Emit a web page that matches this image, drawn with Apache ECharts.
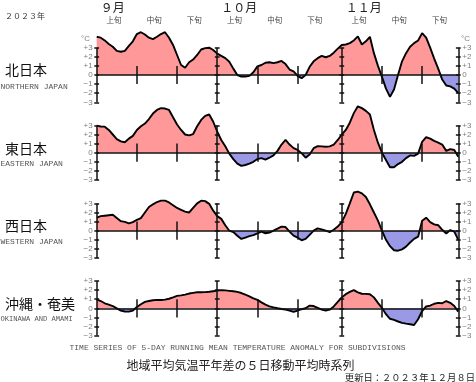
<!DOCTYPE html>
<html><head><meta charset="utf-8">
<script src="https://cdn.jsdelivr.net/npm/echarts@6/dist/echarts.min.js"></script>
<style>html,body{margin:0;padding:0;background:#fff}#c{width:476px;height:382px}</style>
</head><body><div id="c"></div>
<script>
// Day index 0 = Sep 1, 2023 ... 90 = Nov 30, 2023
const northern = [
 4.2, 4.1, 3.8, 3.4, 3.1, 2.65, 2.55, 2.65, 3.2, 3.7,
 4.5, 4.7, 4.45, 4.1, 3.95, 4.2, 4.5, 4.7, 4.1, 3.3,
 2.2, 1.1, 0.8, 1.4, 1.7, 2.2, 2.8, 2.95, 3.0, 2.75,
 2.35, 2.1, 1.85, 1.45, 0.7, 0.0, -0.18, -0.18, -0.1, 0.3,
 0.95, 1.1, 1.35, 1.4, 1.3, 1.4, 1.55, 1.2, 0.6, 0.4,
 -0.1, -0.35, 0.0, 0.9, 1.5, 1.85, 2.1, 1.95, 2.1, 2.45,
 2.9, 3.3, 3.35, 3.5, 3.8, 4.25, 3.35, 3.7, 4.2, 2.4,
 1.0, -0.2, -1.5, -2.4, -1.6, 0.0, 1.5, 2.4, 3.1, 3.5,
 3.8, 4.6, 4.1, 3.0, 1.8, 0.7, -0.5, -1.15, -1.25, -1.5,
 -2.0];
const eastern = [
 2.97, 2.88, 2.86, 2.5, 2.0, 1.5, 1.25, 1.15, 1.55, 1.85,
 2.5, 2.9, 3.2, 3.7, 4.3, 4.7, 4.9, 4.85, 4.7, 3.9,
 3.1, 2.5, 2.0, 1.9, 2.05, 2.9, 3.6, 4.05, 4.2, 3.4,
 2.3, 1.4, 0.7, -0.1, -0.7, -1.2, -1.45, -1.35, -1.2, -1.0,
 -0.7, -0.6, -0.75, -0.55, -0.3, 0.2, 0.9, 1.4, 0.9, 0.5,
 0.3, -0.05, -0.55, -0.2, 0.5, 0.72, 0.7, 0.66, 0.7, 0.9,
 1.4, 2.0, 2.5, 3.3, 4.35, 5.1, 4.9, 4.6, 4.2, 2.5,
 1.1, 0.0, -0.8, -1.6, -1.6, -1.25, -1.0, -0.6, -0.3, -0.35,
 -0.1, 1.2, 1.7, 1.55, 1.3, 1.1, 0.9, 0.2, 0.4, 0.3,
 -0.44];
const western = [
 1.43, 1.6, 1.65, 1.7, 1.75, 1.4, 1.05, 0.97, 0.8, 0.95,
 1.2, 1.38, 2.0, 2.6, 2.9, 3.15, 3.3, 3.3, 3.1, 2.8,
 2.5, 2.3, 2.1, 2.0, 2.5, 3.0, 3.3, 3.25, 2.95, 2.2,
 1.6, 1.3, 0.6, 0.0, -0.15, -0.55, -0.9, -0.75, -0.6, -0.48,
 -0.3, -0.1, -0.28, -0.2, 0.0, 0.22, 0.45, 0.4, -0.1, -0.55,
 -0.75, -1.05, -0.9, -0.45, 0.0, 0.25, 0.15, 0.0, -0.15, 0.1,
 0.45, 0.95, 1.85, 3.0, 4.2, 4.3, 4.1, 3.7, 2.9, 2.0,
 1.1, 0.0, -1.0, -1.7, -2.15, -2.2, -2.05, -1.75, -1.3, -0.9,
 -0.66, 1.1, 1.43, 0.95, 0.7, 0.6, 0.1, -0.3, 0.07, -0.1,
 -1.0];
const okinawa = [
 0.99, 0.8, 0.55, 0.4, 0.25, 0.0, -0.25, -0.35, -0.37, -0.25,
 0.15, 0.45, 0.7, 0.8, 0.88, 0.92, 0.92, 0.95, 1.05, 1.2,
 1.36, 1.42, 1.5, 1.62, 1.7, 1.76, 1.76, 1.78, 1.82, 1.88,
 1.94, 2.0, 1.97, 1.92, 1.87, 1.8, 1.68, 1.5, 1.32, 1.1,
 0.92, 0.65, 0.4, 0.22, 0.1, 0.0, -0.08, -0.15, -0.25, -0.4,
 -0.25, -0.1, 0.0, 0.3, 0.25, 0.05, -0.15, -0.26, -0.15, 0.2,
 0.7, 1.2, 1.55, 1.8, 2.0, 1.75, 1.6, 1.58, 1.55, 1.2,
 0.6, 0.05, -0.65, -1.15, -1.28, -1.45, -1.6, -1.68, -1.75, -1.83,
 -1.2, -0.3, 0.2, 0.3, 0.5, 0.6, 0.55, 0.8, 0.6, 0.26,
 -0.37];

const regionNames = ['北日本', '東日本', '西日本', '沖縄・奄美'];
const regionNamesEn = ['NORTHERN JAPAN', 'EASTERN JAPAN', 'WESTERN JAPAN', 'OKINAWA AND AMAMI'];
const monthLabels = ['９月', '１０月', '１１月'];
const monthStartDays = [0, 30, 61];
const axisMarkDays = [0, 30, 61, 90];
const dekadStartDays = [0, 10, 20, 30, 40, 50, 61, 71, 81];
const dekadLabels = ['上旬', '中旬', '下旬'];
const tenDayMarkDays = [10, 20, 40, 50, 71, 81];
const yTicks = [-3, -2, -1, 0, 1, 2, 3];
const dayFirst = 0, dayLast = 90;

const seriesValues = [northern, eastern, western, okinawa];

// layout
const gridTops = [47.7, 125.4, 203.4, 281.0];
const gridH = 54.6;
const pad = 0.75;        // days of padding beyond first/last day
const tickHalf = 0.6;    // half width of cross ticks, in days
const POS = '#ff9999', NEG = '#9999e6';

const chart = echarts.init(document.getElementById('c'), null, {renderer: 'canvas'});

function fmtY(v) { return v > 0 ? '+' + v : (v < 0 ? '\u2212' + Math.abs(v) : '0'); }

function marks() {
  const d = [];
  d.push([{coord: [dayFirst, 0]}, {coord: [dayLast, 0]}]);
  axisMarkDays.forEach(x => {
    d.push([{coord: [x, yTicks[0]]}, {coord: [x, yTicks[yTicks.length - 1]]}]);
    yTicks.forEach(k => d.push([{coord: [x - tickHalf, k]}, {coord: [x + tickHalf, k]}]));
  });
  tenDayMarkDays.forEach(x => d.push([{coord: [x, -1]}, {coord: [x, 1]}]));
  return d;
}

const grids = [], xAxes = [], yAxes = [], series = [];
seriesValues.forEach((vals, i) => {
  grids.push({left: 93.7, right: 14.7, top: gridTops[i], height: gridH});
  xAxes.push({gridIndex: i, type: 'value', min: dayFirst - pad, max: dayLast + pad,
    axisLine: {show: false}, axisTick: {show: false}, axisLabel: {show: false}, splitLine: {show: false}});
  const yBase = {gridIndex: i, type: 'value', min: -3, max: 3, interval: 1,
    axisLine: {show: false}, axisTick: {show: false}, splitLine: {show: false},
    axisLabel: {margin: 1, fontSize: 8, color: '#808080', fontFamily: 'Liberation Sans', formatter: fmtY}};
  yAxes.push(Object.assign({}, yBase, {position: 'left'}));
  yAxes.push(Object.assign({}, yBase, {position: 'right'}));
  const data = vals.map((v, d) => [dayFirst + d, v]);
  series.push({type: 'line', xAxisIndex: i, yAxisIndex: 2 * i, data, symbol: 'none', showSymbol: false,
    clip: false, silent: true, z: 2, lineStyle: {width: 0, opacity: 0}, areaStyle: {opacity: 1, origin: 0, color: POS}});
  series.push({type: 'line', xAxisIndex: i, yAxisIndex: 2 * i, data, symbol: 'none', showSymbol: false,
    clip: false, silent: true, z: 4, lineStyle: {color: '#000', width: 1.9},
    markLine: {silent: true, symbol: ['none', 'none'], label: {show: false}, animation: false,
      lineStyle: {color: '#111', width: 1.5, type: 'solid'}, emphasis: {disabled: true}, data: marks()}});
});

chart.setOption({
  animation: false,
  backgroundColor: '#fff',
  grid: grids, xAxis: xAxes, yAxis: yAxes, series
});

// two-colour fill split exactly at the zero line of each panel (pixel position from the axis scale)
const areaUpdates = [];
seriesValues.forEach((vals, i) => {
  const z = chart.convertToPixel({gridIndex: i}, [0, 0])[1];
  areaUpdates.push({areaStyle: {opacity: 1, origin: 0, color: new echarts.graphic.LinearGradient(0, z - 1, 0, z + 1, [
    {offset: 0, color: POS}, {offset: 0.5, color: POS}, {offset: 0.5, color: NEG}, {offset: 1, color: NEG}], true)}});
  areaUpdates.push({});
});

function txt(x, y, text, font, fill, align, valign) {
  return {type: 'text', x, y, silent: true, z: 10,
    style: {text, font, fill, align: align || 'left', textAlign: align || 'left',
      verticalAlign: valign || 'middle', textVerticalAlign: valign || 'middle'}};
}
const JP = '"Noto Sans CJK JP"';
const MONO = '"Liberation Mono"';
const g = [];
g.push(txt(5, 16, '２０２３年', '8px ' + JP, '#333'));
monthStartDays.forEach((d, k) => {
  const p = chart.convertToPixel({gridIndex: 0}, [d, 0]);
  g.push(txt(p[0] + 4, 7, monthLabels[k], '12px ' + JP, '#222'));
});
dekadStartDays.forEach((d, k) => {
  const p = chart.convertToPixel({gridIndex: 0}, [d + 4.3, 0]);
  g.push(txt(p[0], 20.5, dekadLabels[k % 3], '7.5px ' + JP, '#444', 'center'));
});
const nameY = [70, 148.3, 226, 303.8];
const enY = [86.7, 164, 241.7, 319.3];
const enSize = [8, 8, 8, 7.1];
regionNames.forEach((n, i) => {
  g.push(txt(5, nameY[i], n, '14px ' + JP, '#111'));
  g.push(txt(0.5, enY[i], regionNamesEn[i], enSize[i] + 'px ' + MONO, '#555', 'left'));
});
g.push(txt(90, 39, '°C', '8px "Liberation Sans"', '#808080', 'right'));
g.push(txt(461, 39, '°C', '8px "Liberation Sans"', '#808080', 'left'));
g.push(txt(237.5, 347.7, 'TIME SERIES OF 5-DAY RUNNING MEAN TEMPERATURE ANOMALY FOR SUBDIVISIONS', '8px ' + MONO, '#555', 'center'));
g.push(txt(240.5, 365, '地域平均気温平年差の５日移動平均時系列', '12px ' + JP, '#222', 'center'));
g.push(txt(475, 377.5, '更新日：２０２３年１２月８日', '9.3px ' + JP, '#222', 'right'));
chart.setOption({series: areaUpdates, graphic: g});
</script>
</body></html>
